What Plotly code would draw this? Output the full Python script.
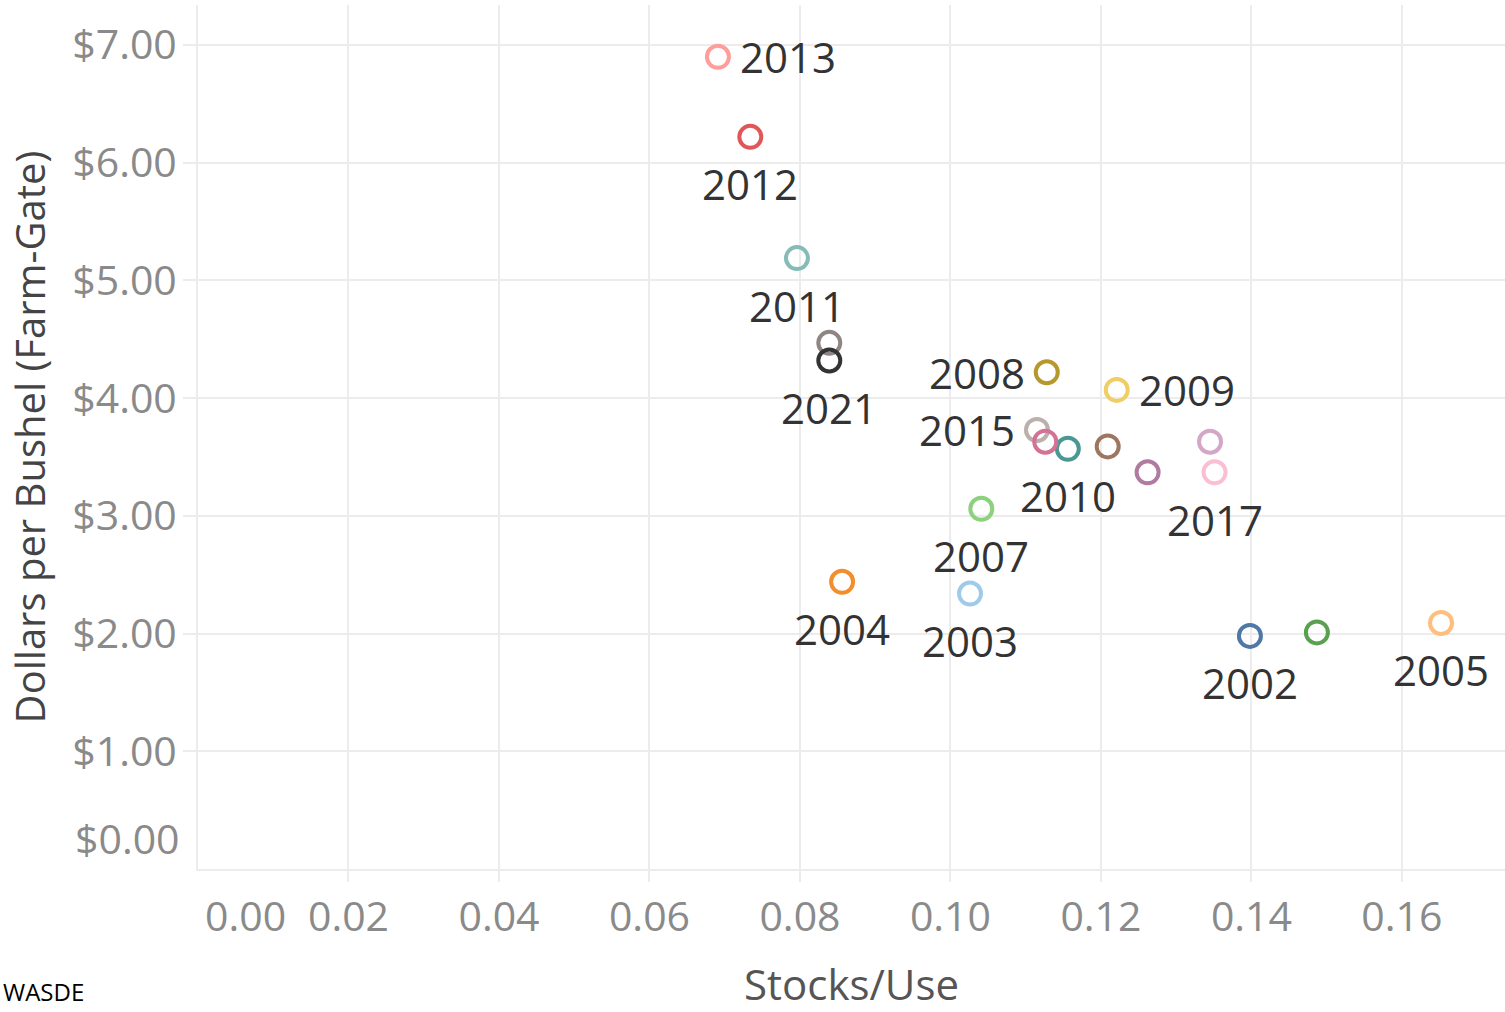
import plotly.graph_objects as go

# Corn stocks-to-use ratio vs. farm-gate price by marketing year
years = [2002, 2003, 2004, 2005, 2006, 2007, 2008, 2009, 2010, 2011,
         2012, 2013, 2014, 2015, 2016, 2017, 2018, 2019, 2020, 2021]
stocks_use = [0.1398, 0.1026, 0.0856, 0.1652, 0.1487, 0.1041, 0.1128, 0.1221, 0.1156, 0.0796,
              0.0734, 0.0691, 0.0839, 0.1115, 0.1126, 0.1351, 0.1262, 0.1345, 0.1209, 0.0839]
price = [1.98, 2.34, 2.44, 2.09, 2.01, 3.06, 4.22, 4.07, 3.57, 5.19,
         6.22, 6.90, 4.47, 3.73, 3.63, 3.37, 3.37, 3.63, 3.59, 4.32]
labeled_years = [2002, 2003, 2004, 2005, 2007, 2008, 2009, 2010, 2011,
                 2012, 2013, 2015, 2017, 2021]

x_ticks = [0.00, 0.02, 0.04, 0.06, 0.08, 0.10, 0.12, 0.14, 0.16]
y_ticks = [0, 1, 2, 3, 4, 5, 6, 7]

colors = ["#4E79A7", "#A0CBE8", "#F28E2B", "#FFBE7D", "#59A14F", "#8CD17D",
          "#B6992D", "#F1CE63", "#499894", "#86BCB6", "#E15759", "#FF9D9A",
          "#8F8584", "#BAB0AC", "#D37295", "#FABFD2", "#B07AA1", "#D4A6C8",
          "#9D7660", "#333333"]

# where each year's label sits relative to its marker: (xshift, yshift, anchor)
label_place = {
    "right": (20, 0, "left"),
    "left": (-20, 0, "right"),
    "below": (0, -47, "center"),
}
label_side = {2013: "right", 2009: "right", 2008: "left", 2015: "left"}

TEXT_FONT = "Open Sans, Lato, DejaVu Sans, sans-serif"
GRID = "#ececec"
TICK_GRAY = "#8a8a8a"
TICK_SIZE = 41

fig = go.Figure()
fig.add_trace(go.Scatter(
    x=stocks_use, y=price, mode="markers",
    marker=dict(symbol="circle-open", size=22, color=colors,
                line=dict(width=4, color=colors)),
    text=[str(y) for y in years], hoverinfo="x+y+text",
    showlegend=False,
))

annotations = []
for yr, xv, yv in zip(years, stocks_use, price):
    if yr not in labeled_years:
        continue
    dx, dy, anchor = label_place[label_side.get(yr, "below")]
    annotations.append(dict(
        x=xv, y=yv, xref="x", yref="y", text=str(yr), showarrow=False,
        xshift=dx, yshift=dy, xanchor=anchor, yanchor="middle",
        font=dict(family=TEXT_FONT, size=42, color="#333333"),
    ))

# zero tick labels nudged inward, as the axis edge leaves no room
annotations.append(dict(
    x=x_ticks[0], y=0, xref="x", yref="paper", text=f"{x_ticks[0]:.2f}",
    showarrow=False, xanchor="center", yanchor="middle", xshift=47, yshift=-46,
    font=dict(family=TEXT_FONT, size=TICK_SIZE, color=TICK_GRAY),
))
annotations.append(dict(
    x=0, y=y_ticks[0], xref="paper", yref="y", text=f"${y_ticks[0]:.2f}",
    showarrow=False, xanchor="right", yanchor="middle", xshift=-16, yshift=31,
    font=dict(family=TEXT_FONT, size=TICK_SIZE, color=TICK_GRAY),
))
# source note in the bottom-left corner
annotations.append(dict(
    x=-0.1505, y=-0.1635, xref="paper", yref="paper", text="WASDE",
    showarrow=False, xanchor="left", yanchor="bottom",
    font=dict(family="Open Sans, Liberation Sans, sans-serif", size=24, color="#000000"),
))

# axis titles placed directly in paper coordinates
annotations.append(dict(
    x=0.5, y=-0.1325, xref="paper", yref="paper", text="Stocks/Use",
    showarrow=False, xanchor="center", yanchor="middle",
    font=dict(family=TEXT_FONT, size=42, color="#555555"),
))
annotations.append(dict(
    x=-0.129, y=0.5, xref="paper", yref="paper", text="Dollars per Bushel (Farm-Gate)",
    showarrow=False, xanchor="center", yanchor="middle", textangle=-90,
    font=dict(family=TEXT_FONT, size=40, color="#444444"),
))

fig.update_layout(
    width=1505, height=1012,
    margin=dict(l=198, r=0, t=5, b=143),
    paper_bgcolor="white", plot_bgcolor="white",
    annotations=annotations,
    xaxis=dict(
        range=[0, 0.1737], tickvals=x_ticks[1:],
        ticktext=[f"{v:.2f}" for v in x_ticks[1:]],
        showgrid=True, gridcolor=GRID, gridwidth=2,
        zeroline=False, showline=True, linecolor=GRID, linewidth=2,
        ticks="outside", ticklen=11, tickcolor=GRID, tickwidth=2,
        tickfont=dict(family=TEXT_FONT, size=TICK_SIZE, color=TICK_GRAY),
        ticklabelstandoff=0,
        fixedrange=True,
    ),
    yaxis=dict(
        range=[0, 7.34], tickvals=y_ticks[1:],
        ticktext=[f"${v:.2f}" for v in y_ticks[1:]],
        showgrid=True, gridcolor=GRID, gridwidth=2,
        zeroline=False, showline=True, linecolor=GRID, linewidth=2,
        ticks="outside", ticklen=13, tickcolor=GRID, tickwidth=2,
        tickfont=dict(family=TEXT_FONT, size=TICK_SIZE, color=TICK_GRAY),
        ticklabelstandoff=-2,
        fixedrange=True,
    ),
)

fig.write_html("out.html")
